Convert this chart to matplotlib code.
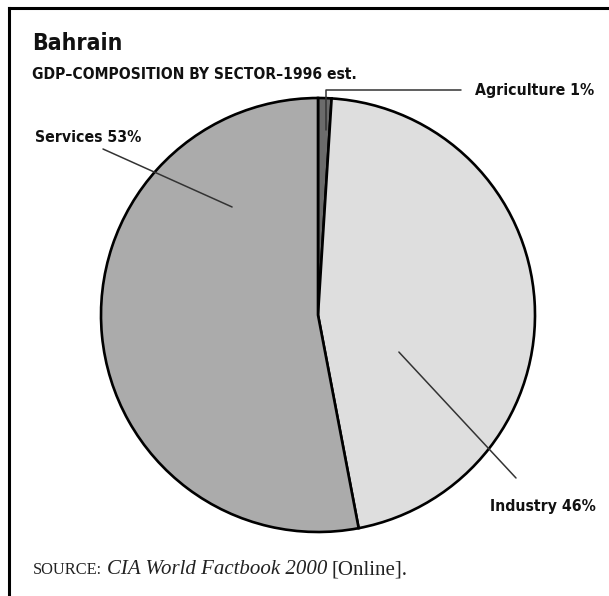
import matplotlib
matplotlib.use("Agg")
import matplotlib.pyplot as plt
import numpy as np
from matplotlib.lines import Line2D

sectors = ["Agriculture", "Industry", "Services"]
shares = [1, 46, 53]
colors = ["#6b6b6b", "#dedede", "#ababab"]

W, H = 609, 596
fig = plt.figure(figsize=(W / 100, H / 100), dpi=100)
fig.patch.set_facecolor("white")

serif = ["Liberation Serif", "DejaVu Serif"]
cond = dict(family=["DejaVu Sans"], fontweight="bold", fontstretch="condensed",
            color="#111111")


def fx(px):
    return px / W


def fy(py):
    return 1 - py / H


# pie centred at (318, 315) px with radius 217 px
cx, cy, r = 318, 315, 217
ax = fig.add_axes([fx(cx - r), fy(cy + r), 2 * r / W, 2 * r / H])
wedges, _ = ax.pie(shares, colors=colors, startangle=90, counterclock=False,
                   radius=1, wedgeprops=dict(edgecolor="black", linewidth=1.9))
ax.set_xlim(-1, 1)
ax.set_ylim(-1, 1)
ax.set_aspect("equal")
ax.axis("off")

# frame: top and left rules only
fig.add_artist(Line2D([fx(8.5), fx(8.5)], [fy(7.5), 0], transform=fig.transFigure,
                      color="black", linewidth=2.2, solid_capstyle="projecting"))
fig.add_artist(Line2D([fx(8.5), 1], [fy(7.5), fy(7.5)], transform=fig.transFigure,
                      color="black", linewidth=2.2, solid_capstyle="projecting"))

fig.text(fx(32), fy(50.5), "Bahrain", fontsize=16.5, va="baseline", ha="left", **cond)
fig.text(fx(32), fy(79), "GDP\u2013COMPOSITION BY SECTOR\u20131996 est.",
         fontsize=11.2, va="baseline", ha="left", **cond)

line_kw = dict(arrowstyle="-", color="#333333", linewidth=1.1)


def pt(angle_deg, rad):
    a = np.deg2rad(angle_deg)
    return rad * np.cos(a), rad * np.sin(a)


labels = [f"{s} {v}%" for s, v in zip(sectors, shares)]

# Agriculture: elbow leader from the thin slice up and across
ax.annotate(labels[0], xy=pt(87.5, 0.855), xytext=(fx(475), fy(90)),
            textcoords="figure fraction", fontsize=11.3, ha="left", va="center",
            arrowprops=dict(connectionstyle="angle,angleA=0,angleB=90,rad=0",
                            relpos=(0, 0.5), shrinkA=8, shrinkB=0, **line_kw),
            **cond)

# Services
ax.annotate("", xy=pt(128.5, 0.636), xytext=(fx(103), fy(149)),
            textcoords="figure fraction", arrowprops=dict(shrinkA=0, shrinkB=0, **line_kw))
fig.text(fx(35), fy(142), labels[2], fontsize=11.3, va="baseline", ha="left", **cond)

# Industry
ax.annotate("", xy=pt(-24.6, 0.41), xytext=(fx(516), fy(478)),
            textcoords="figure fraction", arrowprops=dict(shrinkA=0, shrinkB=0, **line_kw))
fig.text(fx(490), fy(511), labels[1], fontsize=11.3, va="baseline", ha="left", **cond)

# source line, pieced together run by run
fig.canvas.draw()
renderer = fig.canvas.get_renderer()
x = 33
runs = [("SOURCE:", dict(fontsize=11.8), 5),
        ("CIA World Factbook 2000", dict(fontsize=15, style="italic"), 4),
        ("[Online].", dict(fontsize=15), 0)]
for txt, kw, gap in runs:
    t = fig.text(fx(x), fy(574), txt, family=serif, va="baseline", ha="left",
                 color="#222222", **kw)
    bb = t.get_window_extent(renderer)
    x += bb.width + gap

fig.savefig("out.png", dpi=100)
